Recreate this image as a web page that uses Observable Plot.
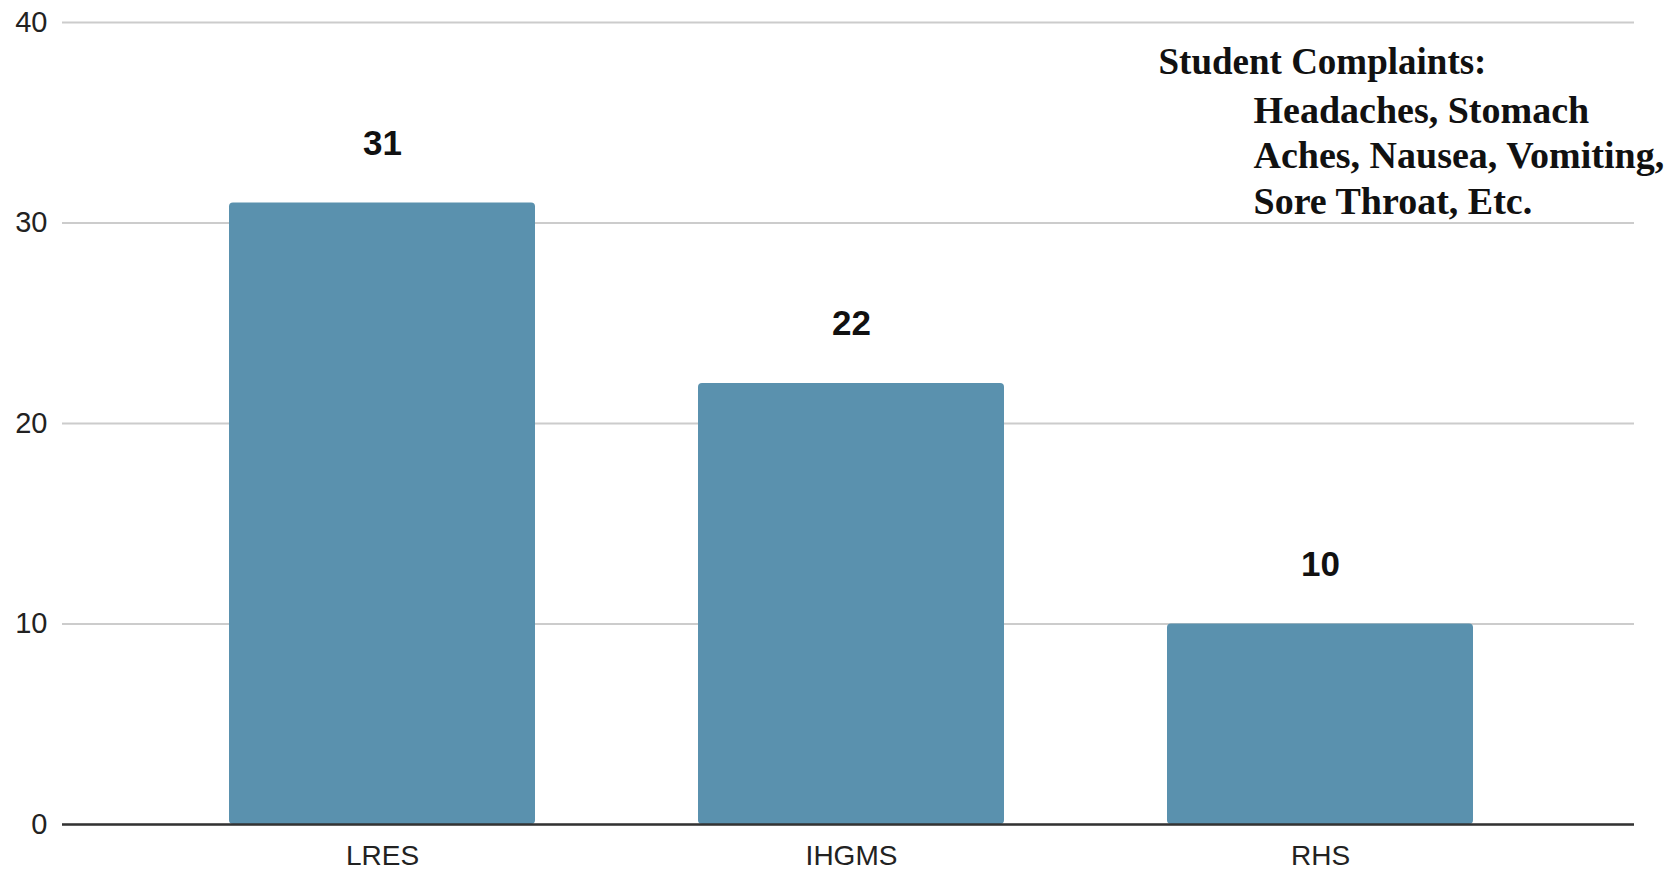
<!DOCTYPE html>
<html>
<head>
<meta charset="utf-8">
<script src="https://cdn.jsdelivr.net/npm/d3@7"></script>
<script src="https://cdn.jsdelivr.net/npm/@observablehq/plot@0.6"></script>
<style>
  html, body { margin: 0; padding: 0; background: #fff; }
  #chart svg { display: block; }
</style>
</head>
<body>
<div id="chart"></div>
<script>
const schools = ["LRES", "IHGMS", "RHS"];
const complaints = [31, 22, 10];
const yTicks = [0, 10, 20, 30, 40];
const noteTitle = "Student Complaints:";
const noteLines = ["Headaches, Stomach", "Aches, Nausea, Vomiting,", "Sore Throat, Etc."];

const data = schools.map((s, i) => ({school: s, value: complaints[i]}));

const chart = Plot.plot({
  width: 1679,
  height: 873,
  marginTop: 22,
  marginBottom: 49,
  marginLeft: 62,
  marginRight: 45,
  style: {fontFamily: "'Liberation Sans', Arial, sans-serif", background: "#fff"},
  x: {domain: schools, paddingInner: 0.348, paddingOuter: 0.174, insetLeft: 84, insetRight: 79, label: null},
  y: {domain: [0, 40], label: null},
  marks: [
    Plot.ruleY(yTicks, {stroke: "#cccccc", strokeWidth: 2}),
    Plot.barY(data, {x: "school", y: "value", fill: "#5a91ae", rx: 4}),
    Plot.ruleY([0], {stroke: "#333333", strokeWidth: 2.5}),
    Plot.axisY({ticks: yTicks, tickSize: 0, tickPadding: 15, fontSize: 29, fill: "#222", label: null}),
    Plot.axisX({tickSize: 0, tickPadding: 21, fontSize: 28, fill: "#222", label: null}),
    Plot.text(data, {x: "school", y: "value", text: d => String(d.value), lineAnchor: "bottom", dy: -48,
      fontSize: 35, fontWeight: "bold", fill: "#111"}),
    Plot.text([noteTitle], {frameAnchor: "top-left", textAnchor: "start", lineAnchor: "top", dx: 1096, dy: 25,
      fontFamily: "'Liberation Serif', 'Times New Roman', serif", fontWeight: "bold", fontSize: 37, fill: "#111"}),
    Plot.text([noteLines.join("\n")], {frameAnchor: "top-left", textAnchor: "start", lineAnchor: "top", dx: 1191, dy: 68,
      lineHeight: 1.2,
      fontFamily: "'Liberation Serif', 'Times New Roman', serif", fontWeight: "bold", fontSize: 38, fill: "#111"})
  ]
});
document.getElementById("chart").appendChild(chart);
</script>
</body>
</html>
